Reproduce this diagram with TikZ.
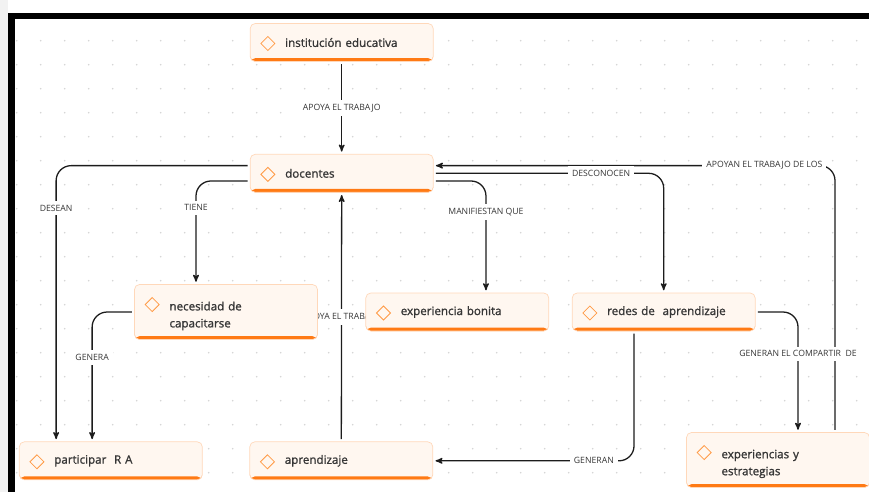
\documentclass[tikz,border=0pt]{standalone}
\usepackage{fontspec}
\setmainfont{Open Sans}
\newfontfamily\boxfont[FakeBold=1.2]{Open Sans}
\usetikzlibrary{arrows}

\definecolor{boxfill}{HTML}{FFF7F0}
\definecolor{boxline}{HTML}{FFD8BA}
\definecolor{boxbar}{HTML}{FF7A14}
\definecolor{icon}{HTML}{FF9A45}
\definecolor{ink}{HTML}{363636}
\definecolor{wire}{HTML}{1C1C1C}
\definecolor{dots}{HTML}{D6D6D6}

\pgfdeclarelayer{grid}
\pgfdeclarelayer{wires}
\pgfsetlayers{grid,wires,main}

\begin{document}
\begin{tikzpicture}[x=0.03cm, y=-0.03cm, ->,>=stealth', shorten >=2pt, shorten <=2pt,
                concept/.style={rectangle, rounded corners=0.15cm, draw=boxline, fill=boxfill,
                  line width=0.6pt, minimum width=5.49cm, minimum height=1.14cm,
                  text width=5.19cm, inner xsep=0.15cm, inner ysep=0pt, text=ink,
                  font=\boxfont\fontsize{9.9}{14.5}\selectfont,
                  execute at begin node={\leftskip=0.9cm},
                  path picture={
                    \fill[boxbar, -] ([yshift=0.1cm]path picture bounding box.south west)
                      rectangle (path picture bounding box.south east);
                    \draw[icon, -, line width=0.7pt, rounded corners=0pt]
                      ([xshift=0.53cm, yshift=-0.6cm]path picture bounding box.north west)
                      +(-0.21cm,0) -- +(0,0.21cm) -- +(0.21cm,0) -- +(0,-0.21cm) -- cycle;
                  }},
                tall/.style={concept, minimum height=1.65cm, text depth=0.36cm},
                lbl/.style={fill=white, text=ink, inner sep=3.5pt, rounded corners=0pt,
                  font=\fontsize{7.4}{8}\selectfont},
                wire/.style={draw=wire, line width=1.1pt, rounded corners=0.45cm}]

  \useasboundingbox (0,0) rectangle (869,492);

  % dotted canvas and frame
  \begin{pgfonlayer}{grid}
    \fill[black!5] (0,0) rectangle (8,492);
    \foreach \i in {0,...,35}
      \foreach \j in {0,...,18}
        \fill[dots] (16.7+24*\i, 40.7+24*\j) circle (0.8pt);
    \fill[black] (8,13) rectangle (869,19);
    \fill[black] (8,13) rectangle (15,492);
  \end{pgfonlayer}

  \node[concept] (inst) at (341.7,42.5) {institución educativa};
  \node[concept] (doc) at (341.7,173.3) {docentes};
  \node[tall] (nec) at (226,312) {necesidad de\\capacitarse};
  \node[concept] (expb) at (457.3,312) {experiencia bonita};
  \node[concept] (redes) at (663.7,312) {redes de\ \ aprendizaje};
  \node[concept] (part) at (110.8,460.8) {participar\ \ R A};
  \node[concept] (apr) at (341.3,460.8) {aprendizaje};
  \node[tall] (exps) at (778,460) {experiencias y\\estrategias};

  \begin{pgfonlayer}{wires}
    \draw[wire] (inst) -- node[lbl] {APOYA EL TRABAJO} (doc);
    \draw[wire] ([yshift=0.23cm]doc.west) -| node[lbl, pos=0.577] {DESEAN}
      ([xshift=-1.64cm]part.north);
    \draw[wire] ([yshift=-0.23cm]doc.west) -| node[lbl, pos=0.63] {TIENE}
      ([xshift=-0.9cm]nec.north);
    \draw[wire] (nec.west) -| node[lbl, pos=0.676] {GENERA}
      ([xshift=-0.56cm]part.north);
    \draw[wire] (apr) -- node[lbl] {APOYA EL TRABAJO} (doc);
    \draw[wire] ([yshift=-0.23cm]doc.east) -| node[lbl, pos=0.64] {MANIFIESTAN QUE}
      ([xshift=0.86cm]expb.north);
    \draw[wire] ([xshift=1.71cm]exps.north) |- node[lbl, pos=0.588] {APOYAN EL TRABAJO DE LOS}
      ([yshift=0.23cm]doc.east);
    \draw[wire] (doc.east) -| node[lbl, pos=0.364] {DESCONOCEN} (redes.north);
    \draw[wire] (redes.east) -| node[lbl, pos=0.674] {GENERAN EL COMPARTIR\ \ DE}
      ([xshift=0.6cm]exps.north);
    \draw[wire] ([xshift=-0.89cm]redes.south) |- node[lbl, pos=0.6] {GENERAN} (apr.east);
  \end{pgfonlayer}
\end{tikzpicture}
\end{document}
